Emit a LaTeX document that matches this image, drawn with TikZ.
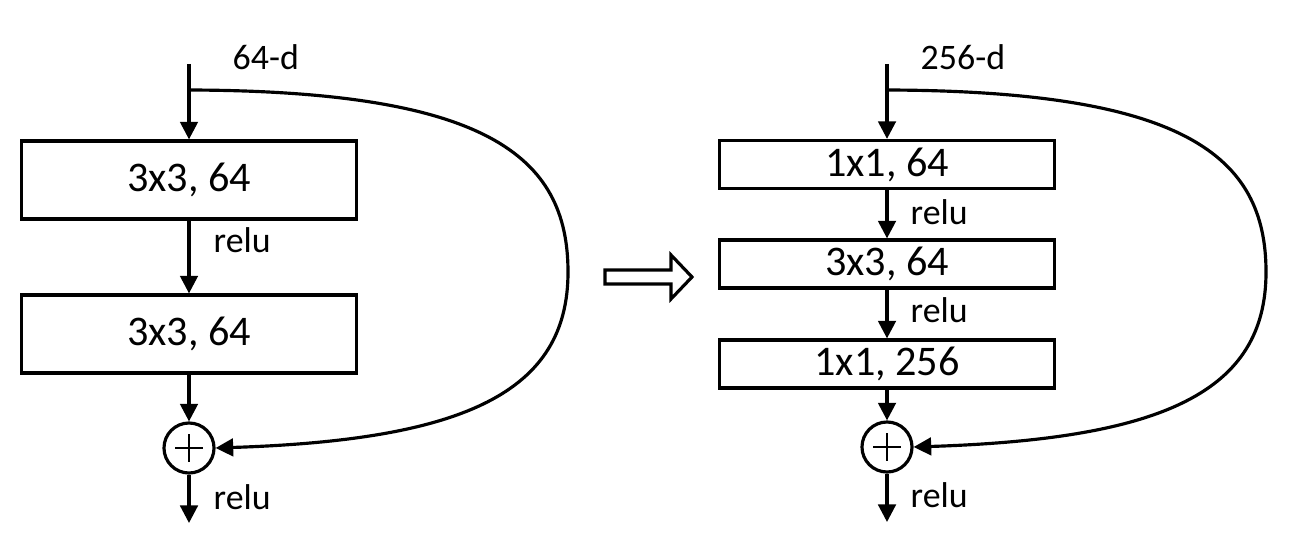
\documentclass[tikz,border=0pt]{standalone}
\usepackage{fontspec}
\setmainfont{Carlito}
\usetikzlibrary{arrows.meta,positioning}
\tikzset{
  layer/.style={draw,line width=0.9pt,minimum width=3.35cm,inner sep=0pt,font=\fontsize{12}{14}\selectfont},
  sumop/.style={draw,circle,line width=0.9pt,minimum size=0.5cm,inner sep=0pt},
  lbl/.style={font=\fontsize{10.2}{12}\selectfont,inner sep=0pt,anchor=west},
  flow/.style={line width=0.9pt,-{Triangle[length=5pt,width=5pt]}}
}
\begin{document}
\begin{tikzpicture}[x=0.01cm,y=-0.01cm]
		\useasboundingbox (0,0) rectangle (1298,555);
		% plain block
		\coordinate (in1) at (189,64);
		\coordinate (br1) at (189,90);
		\node[layer,minimum height=0.78cm] (c1) at (189,180) {3x3, 64};
		\node[layer,minimum height=0.78cm] (c2) at (189,334) {3x3, 64};
		\node[sumop] (s1) at (189,448) {};
		\coordinate (out1) at (189,523);
		\node[lbl] at (232,57) {64-d};
		\node[lbl] at (213,240) {relu};
		\node[lbl] at (213,497) {relu};
		\draw[flow] (in1) -- (c1);
		\path[flow]
		(c1) edge (c2)
		(c2) edge (s1)
		(s1) edge (out1);
		\draw[flow] (br1) .. controls (485,91) and (568,155) .. (568,272)
		.. controls (568,392) and (465,440) .. (s1.east);
		% bottleneck block
		\coordinate (in2) at (887,64);
		\coordinate (br2) at (887,90);
		\node[layer,minimum height=0.48cm] (b1) at (887,164.5) {1x1, 64};
		\node[layer,minimum height=0.48cm] (b2) at (887,264) {3x3, 64};
		\node[layer,minimum height=0.48cm] (b3) at (887,364) {1x1, 256};
		\node[sumop] (s2) at (887,447) {};
		\coordinate (out2) at (887,522);
		\node[lbl] at (920,57) {256-d};
		\node[lbl] at (910,212) {relu};
		\node[lbl] at (910,310) {relu};
		\node[lbl] at (910,495) {relu};
		\draw[flow] (in2) -- (b1);
		\path[flow]
		(b1) edge (b2)
		(b2) edge (b3)
		(b3) edge (s2)
		(s2) edge (out2);
		\draw[flow] (br2) .. controls (1183,91) and (1266,155) .. (1266,272)
		.. controls (1266,392) and (1163,439) .. (s2.east);
		\foreach \s in {s1,s2}
		\draw[line width=0.8pt] (\s.center) +(-14,0) -- +(14,0) (\s.center) +(0,-14) -- +(0,14);
		% hollow arrow
		\draw[line width=0.9pt] (605,270) -- (671,270) -- (671,255) -- (692,277)
		-- (671,299) -- (671,284) -- (605,284) -- cycle;
\end{tikzpicture}
\end{document}
